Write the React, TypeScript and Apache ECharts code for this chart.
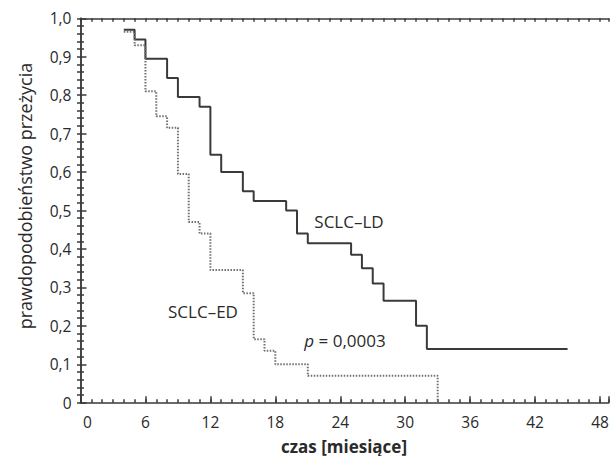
import React, { useEffect, useRef } from "react";
import * as echarts from "echarts";

// SCLC-LD (solid) Kaplan–Meier steps
const ldTimes = [4, 5, 6, 8, 9, 11, 12, 13, 15, 16, 19, 20, 21, 25, 26, 27, 28, 31, 32, 45];
const ldSurv = [0.97, 0.945, 0.895, 0.845, 0.795, 0.77, 0.645, 0.6, 0.55, 0.525, 0.5, 0.44, 0.415, 0.385, 0.35, 0.31, 0.265, 0.2, 0.14, 0.14];

// SCLC-ED (dotted) Kaplan–Meier steps
const edTimes = [4, 5, 6, 7, 8, 9, 10, 11, 12, 15, 16, 17, 18, 21, 33];
const edSurv = [0.965, 0.93, 0.81, 0.745, 0.715, 0.595, 0.47, 0.44, 0.345, 0.285, 0.165, 0.135, 0.1, 0.07, 0];

const xTickLabels = [0, 6, 12, 18, 24, 30, 36, 42, 48];
const yTickLabels = ["0", "0,1", "0,2", "0,3", "0,4", "0,5", "0,6", "0,7", "0,8", "0,9", "1,0"];

const FONT = "Open Sans";
const AXIS = "#3a3a3a";
const TEXT = "#2a2a2a";

export default function App() {
  const ref = useRef<HTMLDivElement>(null);
  useEffect(() => {
    if (!ref.current) return;
    const chart = echarts.init(ref.current, undefined, { renderer: "svg" });
    const X_MAX = 48.8;
    const lineStyle = { color: AXIS, width: 1.5 };
    const baseX = {
      type: "value" as const,
      min: 0,
      max: X_MAX,
      splitLine: { show: false },
    };
    const baseY = {
      type: "value" as const,
      min: 0,
      max: 1,
      interval: 0.1,
      splitLine: { show: false },
    };
    chart.setOption({
      animation: false,
      textStyle: { fontFamily: FONT },
      grid: { left: 80.5, top: 18.3, right: 7.3, bottom: 53.3, containLabel: false },
      xAxis: [
        {
          ...baseX,
          position: "bottom",
          interval: 6,
          axisLine: { show: true, lineStyle },
          axisTick: { show: true, inside: true, length: 6.5, lineStyle },
          axisLabel: {
            show: true,
            margin: 11,
            color: TEXT,
            fontSize: 15.5,
            fontFamily: FONT,
            showMaxLabel: true,
            formatter: (v: number) => {
              const i = xTickLabels.indexOf(Math.round(v * 1000) / 1000);
              if (i < 0) return "";
              return i === 0 ? "{z|0}" : String(xTickLabels[i]);
            },
            rich: { z: { padding: [0, 0, 0, 14], fontSize: 15.5, color: TEXT, fontFamily: FONT } },
          },
        },
        {
          ...baseX,
          position: "bottom",
          interval: 1,
          axisLine: { show: false },
          axisTick: { show: true, inside: true, length: 3.5, lineStyle },
          axisLabel: { show: false },
        },
        {
          ...baseX,
          position: "top",
          interval: 1,
          axisLine: { show: true, lineStyle },
          axisTick: { show: true, inside: true, length: 3.5, lineStyle },
          axisLabel: { show: false },
        },
      ],
      yAxis: [
        {
          ...baseY,
          position: "left",
          axisLine: { show: true, lineStyle },
          axisTick: { show: true, inside: true, length: 6, lineStyle },
          minorTick: { show: true, splitNumber: 5, length: 3.5, lineStyle },
          axisLabel: {
            show: true,
            margin: 9,
            color: TEXT,
            fontSize: 15.5,
            fontFamily: FONT,
            formatter: (v: number) => yTickLabels[Math.round(v * 10)] ?? "",
          },
        },
        {
          ...baseY,
          position: "right",
          axisLine: { show: true, lineStyle },
          axisTick: { show: true, inside: true, length: 3.5, lineStyle },
          minorTick: { show: true, splitNumber: 5, length: 3.5, lineStyle },
          axisLabel: { show: false },
        },
      ],
      series: [
        {
          type: "line",
          name: "SCLC–LD",
          xAxisIndex: 0,
          yAxisIndex: 0,
          step: "end",
          symbol: "none",
          lineStyle: { color: "#3a3a3a", width: 2 },
          data: ldTimes.map((t, i) => [t, ldSurv[i]]),
        },
        {
          type: "line",
          name: "SCLC–ED",
          xAxisIndex: 0,
          yAxisIndex: 0,
          step: "end",
          symbol: "none",
          lineStyle: { color: "#707070", width: 2, type: [1.5, 1.5] },
          data: edTimes.map((t, i) => [t, edSurv[i]]),
        },
      ],
      graphic: [
        {
          type: "text",
          x: 25,
          y: 196,
          rotation: Math.PI / 2,
          style: {
            text: "prawdopodobieństwo przeżycia",
            fontSize: 18,
            fontFamily: FONT,
            fill: TEXT,
            align: "center",
            verticalAlign: "middle",
          },
        },
        {
          type: "text",
          x: 344,
          y: 446,
          style: {
            text: "czas [miesiące]",
            fontSize: 17,
            fontWeight: "bold",
            fontFamily: FONT,
            fill: TEXT,
            align: "center",
            verticalAlign: "middle",
          },
        },
        {
          type: "text",
          x: 349,
          y: 221,
          style: {
            text: "SCLC–LD",
            fontSize: 17,
            fontFamily: FONT,
            fill: TEXT,
            align: "center",
            verticalAlign: "middle",
          },
        },
        {
          type: "text",
          x: 203,
          y: 311,
          style: {
            text: "SCLC–ED",
            fontSize: 17,
            fontFamily: FONT,
            fill: TEXT,
            align: "center",
            verticalAlign: "middle",
          },
        },
        {
          type: "text",
          x: 345,
          y: 340,
          style: {
            text: "{i|p} = 0,0003",
            fontSize: 17,
            fontFamily: FONT,
            fill: TEXT,
            align: "center",
            verticalAlign: "middle",
            rich: {
              i: { fontStyle: "italic", fontSize: 17, fontFamily: FONT, fill: TEXT },
            },
          },
        },
      ],
    });
    return () => chart.dispose();
  }, []);
  return (
    <div
      ref={ref}
      style={{ position: "fixed", left: 0, top: 0, width: 616, height: 456, background: "#fff" }}
    />
  );
}
